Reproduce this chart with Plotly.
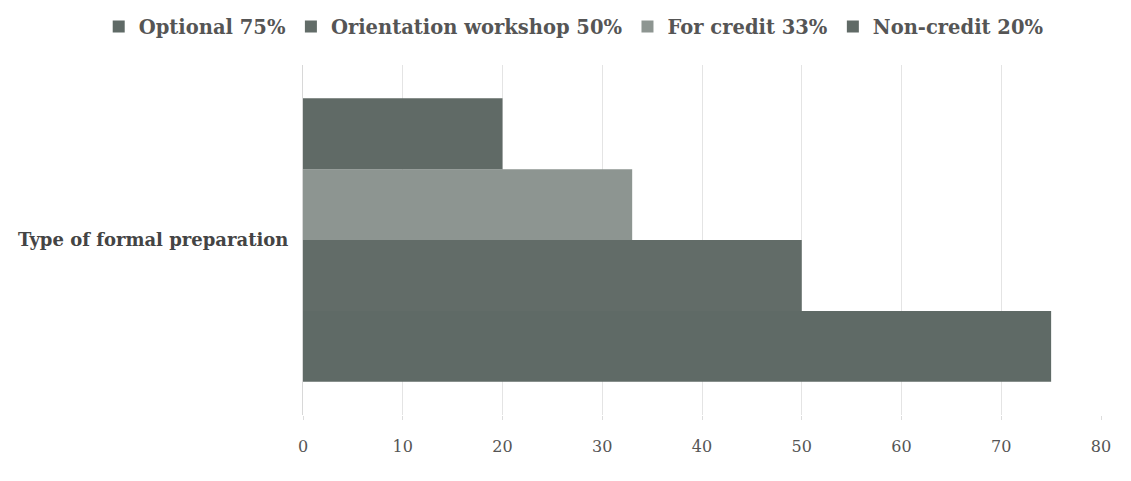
import plotly.graph_objects as go

category = ["Type of formal preparation"]
series_names = ["Optional 75%", "Orientation workshop 50%", "For credit 33%", "Non-credit 20%"]
series_values = [75, 50, 33, 20]
series_colors = ["#5f6a66", "#626c68", "#8d9591", "#606a66"]
x_ticks = [0, 10, 20, 30, 40, 50, 60, 70, 80]

fig = go.Figure()
for name, val, col in zip(series_names, series_values, series_colors):
    fig.add_trace(go.Bar(
        y=category, x=[val], name=name, orientation="h",
        marker=dict(color=col, line=dict(width=0)),
    ))

fig.update_layout(
    width=1131, height=481,
    margin=dict(l=303, r=30, t=65, b=66, autoexpand=False),
    paper_bgcolor="white", plot_bgcolor="white",
    barmode="group", bargap=0.19, bargroupgap=0,
    font=dict(family="DejaVu Serif", size=15, color="#555555"),
    legend=dict(orientation="h", x=-0.256, xanchor="left",
                y=1.165, yanchor="top", traceorder="normal",
                font=dict(family="DejaVu Serif", size=19.5, color="#555555", weight="bold"),
                itemwidth=30),
    showlegend=True,
)
fig.update_xaxes(range=[0, 80], tickvals=x_ticks, showgrid=True, gridcolor="#e4e4e4",
                 zeroline=False, showline=False, ticks="outside", ticklen=4,
                 tickcolor="#dddddd", tickfont=dict(size=16, color="#555555"),
                 ticklabelstandoff=13)
fig.update_yaxes(showline=True, linecolor="#d8d8d8", ticks="", ticklabelstandoff=10,
                 tickfont=dict(size=18, color="#444444", weight="bold"))

fig.write_html("out.html")
